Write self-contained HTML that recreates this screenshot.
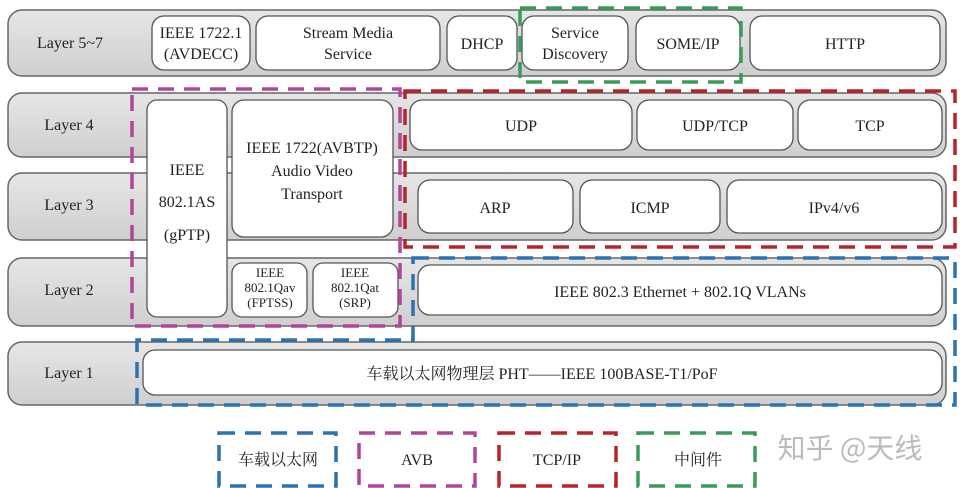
<!DOCTYPE html>
<html><head><meta charset="utf-8"><style>
html,body{margin:0;padding:0;background:#fff;}
svg{display:block;}
text{font-family:"Liberation Serif","Noto Serif CJK SC",serif;fill:#222;}
</style></head><body>
<svg width="963" height="488" viewBox="0 0 963 488" xmlns="http://www.w3.org/2000/svg">
<defs>
<linearGradient id="bar" x1="0" y1="0" x2="0" y2="1">
<stop offset="0" stop-color="#e6e6e6"/><stop offset="1" stop-color="#cfcfcf"/>
</linearGradient>
</defs>
<g stroke="#666" stroke-width="1.5" fill="url(#bar)">
<rect x="8" y="10" width="938" height="66" rx="14"/>
<rect x="8" y="93" width="938" height="64" rx="14"/>
<rect x="8" y="173" width="938" height="67" rx="14"/>
<rect x="8" y="258" width="938" height="68" rx="14"/>
<rect x="8" y="342" width="938" height="63" rx="14"/>
</g>
<g font-size="16">
<text x="70" y="48" text-anchor="middle">Layer 5~7</text>
<text x="69" y="130" text-anchor="middle">Layer 4</text>
<text x="69" y="210" text-anchor="middle">Layer 3</text>
<text x="69" y="295" text-anchor="middle">Layer 2</text>
<text x="69" y="378" text-anchor="middle">Layer 1</text>
</g>
<g stroke="#555" stroke-width="1.3" fill="#fff">
<rect x="152" y="16" width="98" height="54" rx="12"/>
<rect x="256" y="16" width="184" height="54" rx="12"/>
<rect x="447" y="16" width="70" height="54" rx="12"/>
<rect x="522" y="16" width="106" height="54" rx="12"/>
<rect x="636" y="16" width="104" height="54" rx="12"/>
<rect x="750" y="16" width="190" height="54" rx="12"/>
<rect x="147" y="100" width="80" height="217" rx="10"/>
<rect x="232" y="100" width="161" height="137" rx="12"/>
<rect x="232" y="263" width="75" height="54" rx="10"/>
<rect x="313" y="263" width="85" height="54" rx="10"/>
<rect x="410" y="100" width="222" height="50" rx="12"/>
<rect x="637" y="100" width="156" height="50" rx="12"/>
<rect x="798" y="100" width="144" height="50" rx="12"/>
<rect x="418" y="180" width="155" height="53" rx="12"/>
<rect x="580" y="180" width="140" height="53" rx="12"/>
<rect x="727" y="180" width="215" height="53" rx="12"/>
<rect x="418" y="265" width="524" height="50" rx="12"/>
<rect x="143" y="350" width="799" height="45" rx="12"/>
</g>
<g font-size="16" text-anchor="middle">
<text x="201" y="38">IEEE 1722.1</text><text x="201" y="59">(AVDECC)</text>
<text x="348" y="38">Stream Media</text><text x="348" y="59">Service</text>
<text x="482" y="49">DHCP</text>
<text x="575" y="38">Service</text><text x="575" y="59">Discovery</text>
<text x="688" y="49">SOME/IP</text>
<text x="845" y="49">HTTP</text>
<text x="187" y="175">IEEE</text><text x="187" y="207">802.1AS</text><text x="187" y="240">(gPTP)</text>
<text x="312" y="153">IEEE 1722(AVBTP)</text><text x="312" y="176">Audio Video</text><text x="312" y="199">Transport</text>
<text x="521" y="131">UDP</text>
<text x="715" y="131">UDP/TCP</text>
<text x="870" y="131">TCP</text>
<text x="495" y="213">ARP</text>
<text x="650" y="213">ICMP</text>
<text x="834" y="213">IPv4/v6</text>
<text x="680" y="297">IEEE 802.3 Ethernet + 802.1Q VLANs</text>
<text x="542" y="379">车载以太网物理层 PHT——IEEE 100BASE-T1/PoF</text>
</g>
<g font-size="13" text-anchor="middle">
<text x="270" y="277">IEEE</text><text x="270" y="292">802.1Qav</text><text x="270" y="307">(FPTSS)</text>
<text x="355" y="277">IEEE</text><text x="355" y="292">802.1Qat</text><text x="355" y="307">(SRP)</text>
</g>
<g fill="none" stroke-width="3.5" stroke-dasharray="16,10">
<rect x="520" y="8" width="221" height="74" stroke="#3a9a5a"/>
<rect x="132" y="89" width="268" height="237" stroke="#b0459a"/>
<rect x="405" y="91" width="550" height="156" stroke="#b8232a"/>
<path d="M413 258 H955 V405 H137 V340 H413 Z" stroke="#2a72b0"/>
<rect x="219" y="433" width="117" height="53" stroke="#2a72b0"/>
<rect x="359" y="433" width="116" height="53" stroke="#b0459a"/>
<rect x="499" y="433" width="117" height="53" stroke="#b8232a"/>
<rect x="638" y="433" width="117" height="53" stroke="#3a9a5a"/>
</g>
<g font-size="16" text-anchor="middle">
<text x="278" y="465">车载以太网</text>
<text x="417" y="465">AVB</text>
<text x="557" y="465">TCP/IP</text>
<text x="698" y="465">中间件</text>
</g>
<text x="850" y="458" font-size="28" text-anchor="middle" style="fill:#bbb;font-family:'Noto Sans CJK SC',sans-serif">知乎 @天线</text>
</svg>
</body></html>
